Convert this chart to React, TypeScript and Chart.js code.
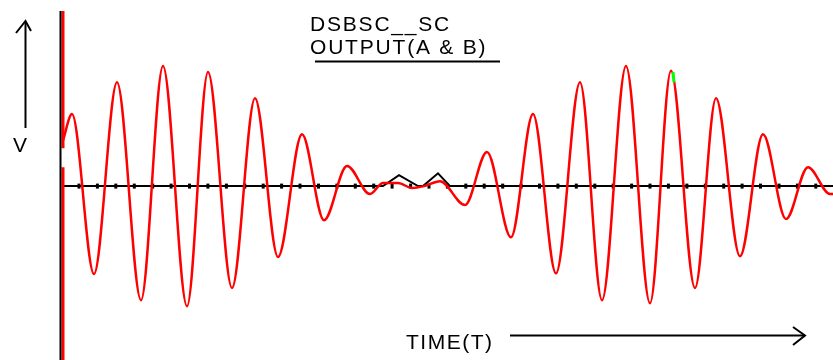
import React, { useEffect, useRef } from "react";
import { Chart, registerables } from "chart.js";

Chart.register(...registerables);

// Time axis (arbitrary units, 0 = vertical axis) and voltage (V)
const outputATime = [
  0.1, 1.0, 3.2, 5.5, 7.9, 10.1, 12.5, 14.6, 17.0, 19.3, 21.6, 24.0, 26.2, 28.5, 30.8,
  32.1, 33.6, 35.0, 36.2, 37.8, 40.3, 42.5, 44.9, 47.1, 49.4, 51.8, 54.0, 56.4, 58.8,
  60.9, 63.3, 65.4, 67.8, 70.1, 72.4, 74.6, 76.8, 77.1,
];
const outputAVolt = [
  0.75, 1.18, -1.44, 1.7, -1.87, 1.97, -1.97, 1.87, -1.67, 1.44, -1.16, 0.85, -0.56, 0.33, -0.13,
  0.05, 0.05, -0.03, 0.0, 0.08, -0.31, 0.56, -0.84, 1.18, -1.43, 1.7, -1.87, 1.97, -1.92,
  1.89, -1.67, 1.44, -1.15, 0.85, -0.54, 0.31, -0.13, -0.13,
];

// Transient drawn on the vertical axis at t≈0 (null = gap)
const startTime = [0.1, 0.1, 0.1, 0.1, 0.1];
const startVolt: (number | null)[] = [2.87, 0.62, null, 0.31, -2.85];

// Output B trace (almost zero with two small bumps)
const outputBTime = [0, 32.1, 33.7, 35.6, 36.1, 37.6, 38.8, 77.1];
const outputBVolt = [0, 0, 0.18, 0, 0, 0.21, 0, 0];

// Sample markers on B trace
const sampleTime = [
  1.7, 3.54, 5.38, 7.23, 9.07, 10.91, 12.75, 14.59, 16.44, 18.28, 20.12, 21.96, 23.8, 25.65,
  27.49, 29.33, 31.17, 33.01, 34.86, 36.7, 38.54, 40.38, 42.22, 44.07, 45.91, 47.75, 49.59,
  51.43, 53.28, 55.12, 56.96, 58.8, 60.64, 62.49, 64.33, 66.17, 68.01, 69.85, 71.7, 73.54, 75.38,
];
const sampleVolt = sampleTime.map(() => 0);

// Small green cursor mark
const cursorTime = [61.1, 61.2];
const cursorVolt = [1.87, 1.7];

const titleLines = ["DSBSC__SC", "OUTPUT(A & B)"];
const yLabel = "V";
const xLabel = "TIME(T)";

const xRange = { min: -6.2, max: 77.1 };
const yRange = { min: -2.85, max: 3.05 };

const pts = (xs: number[], ys: (number | null)[]) => xs.map((x, i) => ({ x, y: ys[i] }));

const annotations = {
  id: "annotations",
  afterDatasetsDraw(chart: any) {
    const ctx = chart.ctx;
    const xs = chart.scales.x;
    const ys = chart.scales.y;
    ctx.save();
    ctx.strokeStyle = "#000";
    ctx.fillStyle = "#000";
    ctx.lineCap = "butt";
    // vertical axis
    const ax = xs.getPixelForValue(0) - 1.5;
    ctx.lineWidth = 2;
    ctx.beginPath();
    ctx.moveTo(ax, ys.getPixelForValue(2.87));
    ctx.lineTo(ax, ys.getPixelForValue(yRange.min));
    ctx.stroke();

    // titles
    ctx.font = '21px "Liberation Sans", Arial, sans-serif';
    ctx.textBaseline = "alphabetic";
    ctx.textAlign = "left";
    ctx.letterSpacing = "1.8px";
    ctx.fillText(titleLines[0], 310, 31);
    ctx.fillText(titleLines[1], 310, 54);
    ctx.lineWidth = 2;
    ctx.beginPath();
    ctx.moveTo(315, 61.5);
    ctx.lineTo(500, 61.5);
    ctx.stroke();

    // V label and up arrow
    ctx.fillText(yLabel, 13, 152);
    ctx.beginPath();
    ctx.moveTo(25.5, 22);
    ctx.lineTo(25.5, 128);
    ctx.stroke();
    ctx.beginPath();
    ctx.moveTo(16, 33);
    ctx.lineTo(25.5, 21);
    ctx.lineTo(31, 31);
    ctx.stroke();

    // time label and arrow
    ctx.letterSpacing = "1.5px";
    ctx.fillText(xLabel, 406, 349);
    ctx.beginPath();
    ctx.moveTo(510, 335.5);
    ctx.lineTo(805, 335.5);
    ctx.stroke();
    ctx.beginPath();
    ctx.moveTo(793, 327);
    ctx.lineTo(805, 335.5);
    ctx.lineTo(793, 345);
    ctx.stroke();
    ctx.restore();
  },
};

export default function App() {
  const ref = useRef<HTMLCanvasElement | null>(null);
  useEffect(() => {
    document.body.style.margin = "0";
    const chart = new Chart(ref.current as HTMLCanvasElement, {
      type: "line",
      data: {
        datasets: [
          {
            label: "Cursor",
            data: pts(cursorTime, cursorVolt),
            borderColor: "#00ff00",
            borderWidth: 3,
            pointRadius: 0,
            order: 0,
          },
          {
            label: "Output A",
            data: pts(outputATime, outputAVolt),
            borderColor: "#ff0000",
            borderWidth: 2.5,
            pointRadius: 0,
            cubicInterpolationMode: "monotone",
            order: 1,
          },
          {
            label: "Start",
            data: pts(startTime, startVolt),
            borderColor: "#ff0000",
            borderWidth: 3,
            pointRadius: 0,
            spanGaps: false,
            order: 1,
          },
          {
            label: "Output B",
            data: pts(outputBTime, outputBVolt),
            borderColor: "#000000",
            borderWidth: 2,
            pointRadius: 0,
            tension: 0,
            order: 2,
          },
          {
            label: "Samples",
            data: pts(sampleTime, sampleVolt),
            showLine: false,
            pointStyle: "line",
            rotation: 90,
            pointRadius: 2.5,
            pointBorderWidth: 3,
            borderColor: "#000000",
            backgroundColor: "#000000",
            order: 2,
          },
        ],
      },
      options: {
        animation: false,
        responsive: true,
        maintainAspectRatio: false,
        layout: { padding: 0, autoPadding: false },
        plugins: { legend: { display: false }, tooltip: { enabled: false } },
        scales: {
          x: { type: "linear", min: xRange.min, max: xRange.max, display: false },
          y: { type: "linear", min: yRange.min, max: yRange.max, display: false },
        },
      },
      plugins: [annotations],
    });
    return () => chart.destroy();
  }, []);
  return (
    <div style={{ position: "fixed", left: 0, top: 0, width: 833, height: 360, background: "#fff" }}>
      <canvas ref={ref} />
    </div>
  );
}
